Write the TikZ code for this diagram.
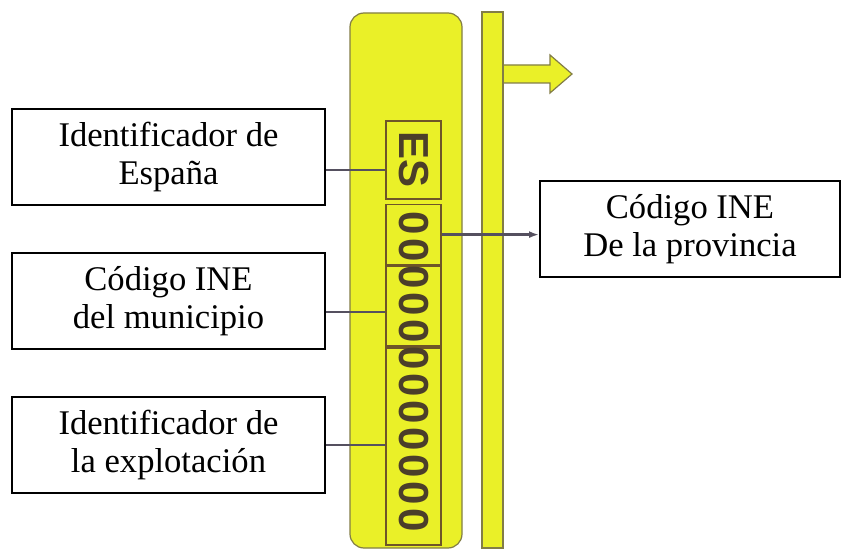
\documentclass[tikz,border=0pt]{standalone}
\usepackage{fontspec}
\setmainfont{Liberation Serif}
\newfontfamily\tagfont{Liberation Sans}
\usepackage{xcolor}
\usetikzlibrary{positioning,arrows.meta}
\definecolor{tagyellow}{RGB}{234,240,40}
\definecolor{tagedge}{RGB}{130,125,70}
\definecolor{tagline}{RGB}{110,85,40}
\definecolor{tagtext}{RGB}{75,62,42}
\definecolor{connline}{RGB}{85,80,95}

\begin{document}
\begin{tikzpicture}[x=0.5pt, y=-0.5pt,
    label box/.style={draw, line width=1pt, rectangle, minimum width=156.5pt, minimum height=48pt, inner sep=0pt, align=center, font=\fontsize{17.3}{19}\selectfont},
    code box/.style={draw=tagline, line width=0.8pt, rectangle, minimum width=27.5pt, inner sep=0pt},
    digit/.style={font=\tagfont\bfseries\fontsize{21}{21}\selectfont, text=tagtext, rotate=-90, inner sep=0pt},
    conn/.style={draw=connline, line width=1.2pt},
    node distance=72pt]

    \useasboundingbox (0,0) rectangle (842,551);

    % ear tag
    \draw[fill=tagyellow, draw=tagedge, line width=0.6pt, rounded corners=7pt] (350,13) rectangle (462,548);
    \draw[fill=tagyellow, draw=tagedge, line width=0.6pt] (503,65) -- (550,65) -- (550,55) -- (572,74) -- (550,93) -- (550,83) -- (503,83) -- cycle;
    \draw[fill=tagyellow, draw=tagedge, line width=0.6pt] (482,12) rectangle (503,548);

    \node[code box, minimum height=39pt] (es) at (413.5,160) {};
    \node[code box, minimum height=30pt, below=2pt of es] (cprov) {};
    \node[code box, minimum height=40pt, below=0pt of cprov] (cmun) {};
    \node[code box, minimum height=98.5pt, below=0pt of cmun] (cfarm) {};

    \node[digit] (estext) at (es) {ES};
    \foreach \i in {0,...,11}
        \node[digit] (d\i) at (413.5,{223+27*\i}) {0};

    % labels
    \node[label box] (lspain) at (168.5,157) {Identificador de\\España};
    \node[label box, below of=lspain] (lmun) {Código INE\\del municipio};
    \node[label box, below of=lmun] (lfarm) {Identificador de\\la explotación};
    \node[label box, minimum width=150pt] (lprov) at (690,229) {Código INE\\De la provincia};

    \draw[conn] ([yshift=-6.5pt]lspain.east) -- ([yshift=-6.5pt]lspain.east -| es.west);
    \draw[conn] ([yshift=-5.5pt]lmun.east) -- ([yshift=-5.5pt]lmun.east -| cmun.west);
    \draw[conn] (lfarm.east) -- (lfarm.east -| cfarm.west);
    \draw[conn, -{Latex[length=5pt,width=3.5pt]}] (cprov.east) -- (cprov.east -| lprov.west);

\end{tikzpicture}
\end{document}
